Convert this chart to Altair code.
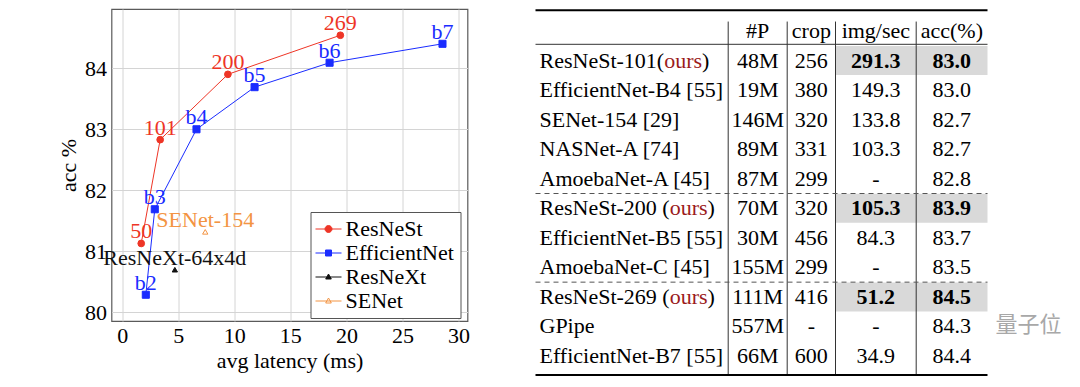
import altair as alt
import pandas as pd

FONT = "Liberation Serif"
FS = 22

# ---------------- chart data ----------------
series = ["ResNeSt", "EfficientNet", "ResNeXt", "SENet"]

resnest_latency = [1.70, 3.39, 9.43, 19.46]
resnest_acc = [81.13, 82.83, 83.90, 84.54]
resnest_labels = ["50", "101", "200", "269"]

effnet_latency = [2.11, 2.91, 6.63, 11.81, 18.50, 28.57]
effnet_acc = [80.29, 81.69, 83.00, 83.69, 84.09, 84.40]
effnet_labels = ["b2", "b3", "b4", "b5", "b6", "b7"]

resnext_latency = [4.70]
resnext_acc = [80.70]
resnext_labels = ["ResNeXt-64x4d"]

senet_latency = [7.41]
senet_acc = [81.32]
senet_labels = ["SENet-154"]

x_ticks = [0, 5, 10, 15, 20, 25, 30]
y_ticks = [80, 81, 82, 83, 84]

# ---------------- table data ----------------
tbl_header = ["#P", "crop", "img/sec", "acc(%)"]
tbl_model = ["ResNeSt-101(ours)", "EfficientNet-B4 [55]", "SENet-154 [29]", "NASNet-A [74]",
             "AmoebaNet-A [45]", "ResNeSt-200 (ours)", "EfficientNet-B5 [55]", "AmoebaNet-C [45]",
             "ResNeSt-269 (ours)", "GPipe", "EfficientNet-B7 [55]"]
tbl_params = ["48M", "19M", "146M", "89M", "87M", "70M", "30M", "155M", "111M", "557M", "66M"]
tbl_crop = ["256", "380", "320", "331", "299", "320", "456", "299", "416", "-", "600"]
tbl_speed = ["291.3", "149.3", "133.8", "103.3", "-", "105.3", "84.3", "-", "51.2", "-", "34.9"]
tbl_acc = ["83.0", "83.0", "82.7", "82.7", "82.8", "83.9", "83.7", "83.5", "84.5", "84.3", "84.4"]
tbl_group = [1, 1, 1, 1, 1, 2, 2, 2, 3, 3, 3]
watermark = ["量子位"]

# ---------------- styles / layout ----------------
colors = {"ResNeSt": "#ee3526", "EfficientNet": "#1a2cff", "ResNeXt": "#111111", "SENet": "#f39443"}
fills = {"ResNeSt": "#ee3526", "EfficientNet": "#1a2cff", "ResNeXt": "#111111", "SENet": "white"}
shapes = {"ResNeSt": "circle", "EfficientNet": "square", "ResNeXt": "triangle-up", "SENet": "triangle-up"}
sizes = {"ResNeSt": 45, "EfficientNet": 50, "ResNeXt": 28, "SENet": 28}
OURS_RED = "#9b1b1b"
line_seg = "M-1.3,0L1.3,0"
legend_paths = {
    "ResNeSt": line_seg + "M0.35,0A0.35,0.35,0,1,1,-0.35,0A0.35,0.35,0,1,1,0.35,0Z",
    "EfficientNet": line_seg + "M-0.3,-0.3L0.3,-0.3L0.3,0.3L-0.3,0.3Z",
    "ResNeXt": line_seg + "M0,-0.3L0.28,0.2L-0.28,0.2Z",
    "SENet": line_seg + "M0,-0.3L0.28,0.2L-0.28,0.2Z",
}
# advance widths (em) of the serif font, used to place the coloured "(ours)" pieces
glyph_w = {"R": 0.667, "e": 0.444, "s": 0.389, "N": 0.722, "S": 0.556, "t": 0.278, "-": 0.333,
           "(": 0.333, ")": 0.333, " ": 0.25, "o": 0.5, "u": 0.5, "r": 0.333}


def text_w(s):
    return FS * sum(glyph_w.get(c, 0.5) for c in s)


frames = []
for s, lat, acc, lab in [("ResNeSt", resnest_latency, resnest_acc, resnest_labels),
                         ("EfficientNet", effnet_latency, effnet_acc, effnet_labels),
                         ("ResNeXt", resnext_latency, resnext_acc, resnext_labels),
                         ("SENet", senet_latency, senet_acc, senet_labels)]:
    frames.append(pd.DataFrame({"series": s, "latency": lat, "acc": acc, "label": lab}))
df = pd.concat(frames, ignore_index=True)

x_enc = alt.X("latency:Q",
              scale=alt.Scale(domain=[-0.95, 30.8], nice=False, zero=False),
              axis=alt.Axis(values=x_ticks, title="avg latency (ms)", labelFont=FONT, labelFontSize=FS,
                            titleFont=FONT, titleFontSize=FS, titleFontWeight="normal",
                            labelColor="black", titleColor="black", grid=True, gridColor="#d4d4d4",
                            domain=False, ticks=False, labelPadding=4, titlePadding=4, labelFlush=False))
y_enc = alt.Y("acc:Q",
              scale=alt.Scale(domain=[79.86, 84.97], nice=False, zero=False),
              axis=alt.Axis(values=y_ticks, title="acc %", labelFont=FONT, labelFontSize=FS,
                            titleFont=FONT, titleFontSize=FS, titleFontWeight="normal",
                            labelColor="black", titleColor="black", grid=True, gridColor="#d4d4d4",
                            domain=False, ticks=False, labelPadding=5, titlePadding=4, labelFlush=False))

base = alt.Chart(df).encode(x=x_enc, y=y_enc)
layers = []
for s in series:
    sub = base.transform_filter(alt.datum.series == s)
    layers.append(sub.mark_line(color=colors[s], strokeWidth=1))
for s in series:
    sub = base.transform_filter(alt.datum.series == s)
    layers.append(sub.mark_point(shape=shapes[s], fill=fills[s], stroke=colors[s], size=sizes[s],
                                 opacity=1, strokeWidth=1, filled=False))
for s in series:
    sub = base.transform_filter(alt.datum.series == s)
    layers.append(sub.mark_text(color=colors[s], font=FONT, fontSize=FS, align="center",
                                baseline="alphabetic", dy=-5).encode(text="label:N"))

leg = alt.Legend(title=None, orient="none", legendX=199, legendY=203, symbolSize=400,
                 labelFont=FONT, labelFontSize=FS, labelColor="black", padding=6, rowPadding=2,
                 labelOffset=6, symbolOffset=1, strokeColor="#555555", fillColor="white",
                 symbolStrokeWidth=1, symbolOpacity=1, labelLimit=0, cornerRadius=0)
legend_layer = base.mark_point(opacity=1, strokeWidth=1).encode(
    stroke=alt.Stroke("series:N", scale=alt.Scale(domain=series, range=[colors[s] for s in series]), legend=leg),
    fill=alt.Fill("series:N", scale=alt.Scale(domain=series, range=[fills[s] for s in series]), legend=leg),
    shape=alt.Shape("series:N", scale=alt.Scale(domain=series, range=[legend_paths[s] for s in series]), legend=leg),
).transform_filter("false")
layers.append(legend_layer)

left = alt.layer(*layers).properties(
    width=356, height=312,
    view=alt.ViewBackground(stroke="#5a5a5a", strokeWidth=1.2, fill="white"))

# ---------------- table ----------------
TW = 528
TH = 366
col_edges = [0, 192.7, 251.7, 300, 380.7, 452]
col_centers = [(col_edges[i] + col_edges[i + 1]) / 2 for i in range(1, 5)]
name_x = 4
row_top = -0.745
row_px = 29.545
row_bottom = row_top + TH / row_px

xs = alt.Scale(domain=[0, TW], nice=False, zero=False)
ys = alt.Scale(domain=[row_top, row_bottom], nice=False, zero=False, reverse=True)

cells = []
for j, h in enumerate(tbl_header):
    cells.append({"row": 0, "x": col_centers[j], "text": h, "bold": False})
for i in range(len(tbl_model)):
    ours = "(ours)" in tbl_model[i]
    for j, vals in enumerate([tbl_params, tbl_crop, tbl_speed, tbl_acc]):
        cells.append({"row": i + 1, "x": col_centers[j], "text": vals[i], "bold": ours and j >= 2})
cells = pd.DataFrame(cells)

names = []
for i, n in enumerate(tbl_model):
    k = n.find("ours")
    if k < 0:
        names.append({"row": i + 1, "x": name_x, "text": n, "color": "black"})
    else:
        pre, mid, post = n[:k], n[k:k + 4], n[k + 4:]
        names.append({"row": i + 1, "x": name_x, "text": pre, "color": "black"})
        names.append({"row": i + 1, "x": name_x + text_w(pre), "text": mid, "color": OURS_RED})
        names.append({"row": i + 1, "x": name_x + text_w(pre + mid), "text": post, "color": "black"})
names = pd.DataFrame(names)

shade = pd.DataFrame([{"x": col_edges[3], "x2": col_edges[5], "y": i + 1 - 0.49, "y2": i + 1 + 0.49}
                      for i, n in enumerate(tbl_model) if "(ours)" in n])

hl = [{"y": -0.70, "x": 0, "x2": col_edges[5], "kind": "thick"},
      {"y": 0.45, "x": 0, "x2": col_edges[5], "kind": "thin"},
      {"y": len(tbl_model) + 0.64, "x": 0, "x2": col_edges[5], "kind": "thick"}]
for i in range(1, len(tbl_group)):
    if tbl_group[i] != tbl_group[i - 1]:
        hl.append({"y": i + 0.5, "x": 0, "x2": col_edges[5], "kind": "dash"})
hl = pd.DataFrame(hl)
vl = pd.DataFrame([{"x": e, "y": -0.32, "y2": len(tbl_model) + 0.64} for e in col_edges[1:5]])

wm = pd.DataFrame({"x": [TW - 2], "row": [9.95], "text": watermark})

X = lambda f: alt.X(f, scale=xs, axis=None)
Y = lambda f: alt.Y(f, scale=ys, axis=None)

t_layers = [
    alt.Chart(shade).mark_rect(color="#d9d9d9").encode(x=X("x:Q"), x2="x2:Q", y=Y("y:Q"), y2="y2:Q"),
    alt.Chart(vl).mark_rule(color="#333333", strokeWidth=1).encode(x=X("x:Q"), y=Y("y:Q"), y2="y2:Q"),
    alt.Chart(hl).transform_filter(alt.datum.kind == "thick").mark_rule(color="black", strokeWidth=2).encode(
        x=X("x:Q"), x2="x2:Q", y=Y("y:Q")),
    alt.Chart(hl).transform_filter(alt.datum.kind == "thin").mark_rule(color="#333333", strokeWidth=1).encode(
        x=X("x:Q"), x2="x2:Q", y=Y("y:Q")),
    alt.Chart(hl).transform_filter(alt.datum.kind == "dash").mark_rule(
        color="#555555", strokeWidth=1, strokeDash=[5, 4]).encode(x=X("x:Q"), x2="x2:Q", y=Y("y:Q")),
    alt.Chart(cells).transform_filter("!datum.bold").mark_text(
        font=FONT, fontSize=FS, color="black", align="center", baseline="middle").encode(
        x=X("x:Q"), y=Y("row:Q"), text="text:N"),
    alt.Chart(cells).transform_filter("datum.bold").mark_text(
        font=FONT, fontSize=FS, color="black", align="center", baseline="middle", fontWeight="bold").encode(
        x=X("x:Q"), y=Y("row:Q"), text="text:N"),
    alt.Chart(names).mark_text(font=FONT, fontSize=FS, align="left", baseline="middle").encode(
        x=X("x:Q"), y=Y("row:Q"), text="text:N", color=alt.Color("color:N", scale=None)),
    alt.Chart(wm).mark_text(font="Noto Sans CJK SC", fontSize=22, color="#a8a8a8", align="right",
                            baseline="middle").encode(x=X("x:Q"), y=Y("row:Q"), text="text:N"),
]
table = alt.layer(*t_layers).properties(
    width=TW, height=TH, view=alt.ViewBackground(strokeOpacity=0))

chart = alt.hconcat(left, table, spacing=64).properties(
    padding={"left": 48.5, "top": 0, "right": 0, "bottom": 0}, background="white")

chart.save("out.html", embed_options={"renderer": "svg", "actions": False})
